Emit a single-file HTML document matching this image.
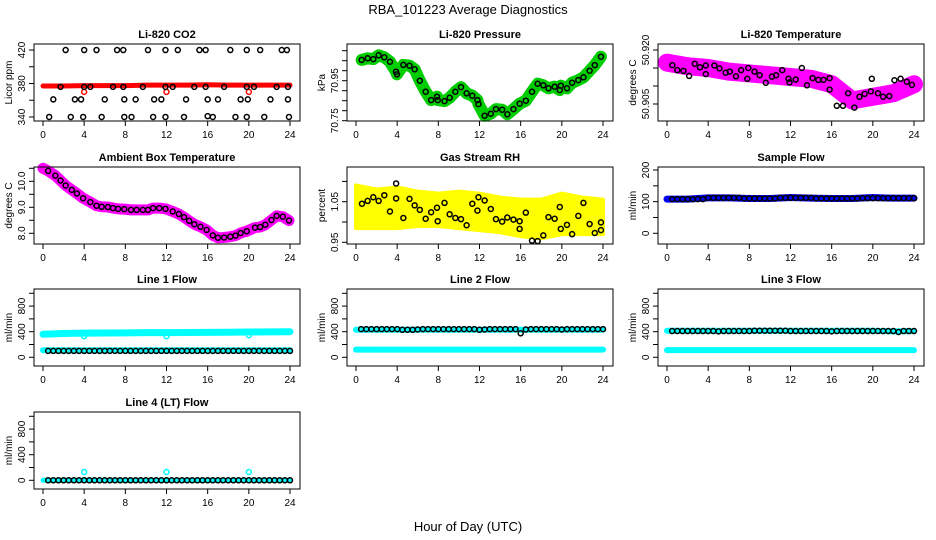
<!DOCTYPE html>
<html><head><meta charset="utf-8">
<style>
html,body{margin:0;padding:0;background:#fff;}
svg{display:block;font-family:"Liberation Sans",sans-serif;}
</style></head>
<body>
<svg id="c" width="936" height="540" viewBox="0 0 936 540">
<text x="468" y="14" text-anchor="middle" font-size="13">RBA_101223  Average Diagnostics</text>
<text x="468" y="531" text-anchor="middle" font-size="13">Hour of Day (UTC)</text>
</svg>
<script>
// ---------- data ----------
const halfHours = [0.5,1,1.5,2,2.5,3,3.5,4,4.5,5,5.5,6,6.5,7,7.5,8,8.5,9,9.5,10,10.5,11,11.5,12,12.5,13,13.5,14,14.5,15,15.5,16,16.5,17,17.5,18,18.5,19,19.5,20,20.5,21,21.5,22,22.5,23,23.5,24];
const bandHours = [0,2,4,6,8,10,12,14,16,18,20,22,24];

const co2BlackH = [2.2,4.0,5.2,7.2,7.8,10.2,11.9,13.1,15.2,15.8,18.2,19.8,21.1,23.2,23.7,
 1.7,4.0,4.6,6.8,7.8,9.7,11.9,12.6,14.7,15.8,17.6,19.8,20.5,22.7,23.8,
 1.0,3.1,3.7,6.0,7.9,9.0,10.8,11.5,13.9,16.0,17.0,19.2,19.9,22.1,23.8,
 0.6,2.7,3.9,5.7,7.9,8.6,10.7,11.9,13.7,16.0,16.5,18.7,19.8,21.5,23.9];
const co2BlackV = [420,420,420,420,420,420,420,420,420,420,420,420,420,420,420,
 376,376,376,376,376,376,376,376,376,376,376,376,376,376,376,
 361,361,361,361,361,361,361,361,361,361,361,361,361,361,361,
 340,340,340,340,340,340,340,340,340,341,340,340,340,340,340];
const co2Red = [377,377,377.5,377.5,377.5,378,378,378,378.5,378,378,378,378];
const co2RedOutH = [4,12,20];
const co2RedOutV = [370,370,370];

const presH = [0.55,1.13,1.68,2.2,2.75,3.3,3.89,3.98,4.6,5.2,5.7,6.2,6.77,7.3,7.87,7.94,8.6,9.1,9.65,10.2,10.75,11.3,11.8,11.9,12.5,13.1,13.6,14.2,14.7,15.3,15.9,16.5,17.1,17.65,18.2,18.7,19.3,19.8,19.9,20.5,21.0,21.6,22.1,22.7,23.2,23.8];
const presV = [71.054,71.062,71.058,71.077,71.067,71.045,70.995,70.982,71.029,71.025,71.007,70.950,70.895,70.853,70.870,70.853,70.848,70.865,70.895,70.918,70.887,70.875,70.853,70.833,70.775,70.785,70.808,70.805,70.782,70.808,70.835,70.85,70.895,70.935,70.927,70.912,70.92,70.903,70.925,70.912,70.94,70.953,70.967,71.0,71.028,71.07];

const tempH = [0.52,1.0,1.6,2.15,2.7,3.2,3.77,3.77,4.6,5.1,5.7,6.1,6.7,7.2,7.8,7.9,8.5,9.0,9.6,10.2,10.6,11.2,11.8,11.9,12.5,13.1,13.6,14.15,14.7,15.2,15.8,15.8,16.5,17.1,17.6,18.2,18.7,19.2,19.8,19.9,20.5,21.0,21.6,22.1,22.7,23.3,23.8];
const tempV = [50.9158,50.9144,50.9142,50.9128,50.9162,50.9152,50.9157,50.9133,50.9157,50.9149,50.9137,50.914,50.9127,50.9144,50.912,50.915,50.914,50.913,50.9109,50.9126,50.913,50.9144,50.912,50.911,50.9118,50.915,50.9102,50.9122,50.9117,50.9117,50.9122,50.909,50.9045,50.9045,50.908,50.904,50.907,50.9078,50.9085,50.912,50.908,50.907,50.9072,50.9116,50.912,50.9112,50.9103];
const tempBand = [50.9165,50.9155,50.915,50.914,50.9135,50.913,50.9125,50.912,50.9105,50.906,50.907,50.908,50.9105];

const ambH = [0.5,1.2,1.7,2.2,2.8,3.3,3.9,4.6,5.2,5.7,6.3,6.8,7.3,7.9,8.55,9.1,9.7,10.2,10.7,11.3,11.9,12.6,13.2,13.7,14.2,14.7,15.3,15.9,16.5,17.0,17.6,18.2,18.7,19.2,19.8,20.6,21.1,21.6,22.2,22.7,23.3,23.9];
const ambV = [10.40,10.22,10.03,9.84,9.67,9.53,9.35,9.20,9.06,9.02,9.01,8.97,8.94,8.93,8.9,8.9,8.9,8.9,8.97,8.97,8.94,8.84,8.74,8.62,8.48,8.35,8.25,8.13,7.92,7.83,7.84,7.87,7.91,8.01,8.08,8.22,8.24,8.33,8.51,8.67,8.64,8.49];

const rhH = [0.58,1.13,1.68,2.2,2.75,3.3,3.9,3.9,4.6,5.2,5.7,6.2,6.77,7.3,7.87,7.94,8.6,9.1,9.65,10.2,10.75,11.3,11.8,11.9,12.5,13.1,13.6,14.2,14.7,15.3,15.9,15.9,16.5,17.1,17.65,18.2,18.7,19.3,19.8,19.9,20.5,21.0,21.6,22.1,22.7,23.2,23.8,23.8];
const rhV = [1.045,1.052,1.061,1.052,1.066,1.026,1.095,1.058,1.010,1.057,1.041,1.030,1.008,1.024,1.035,1.002,1.047,1.019,1.010,1.007,0.992,1.045,1.028,1.061,1.053,1.032,1.007,1.001,1.011,1.006,1.002,0.983,1.023,0.954,0.953,0.967,1.012,1.008,1.037,0.983,0.993,0.970,1.015,1.047,0.995,0.973,0.98,0.999];
const rhHi = [1.09,1.08,1.085,1.075,1.07,1.075,1.07,1.06,1.055,1.055,1.07,1.06,1.055];
const rhLo = [0.985,0.985,0.985,0.99,0.99,0.985,0.98,0.975,0.965,0.96,0.97,0.97,0.97];

const sampleBand = [108,108,112,112,110,110,113,111,110,110,113,111,111];
const sampleBlack = [108,108,108,108,108,108,108,112,112,112,112,112,112,112,110,110,110,110,110,110,110,112,112,112,112,112,112,112,110,110,110,110,110,110,110,110,110,111,111,111,111,111,111,111,111,111,111,111];

const l1Upper = [360,372,378,380,382,385,385,388,390,392,395,398,400];
const l1Lower = [110,110,110,110,110,110,110,110,110,110,110,110,110];
const l1Black = [100,100,100,100,100,100,100,100,100,100,100,100,100,100,100,100,100,100,100,100,100,100,100,100,100,100,100,100,100,100,100,100,100,100,100,100,100,100,100,100,100,100,100,100,100,100,100,100];
const l1DipH = [4,12,20];
const l1DipV = [330,330,345];

const l2Upper = [430,430,430,430,430,430,430,430,430,430,430,430,430];
const l2Lower = [120,120,120,120,120,120,120,120,120,120,120,120,120];
const l2Black = [440,440,440,440,440,440,440,440,430,430,430,435,440,440,440,440,440,440,440,440,440,440,440,430,435,440,440,440,440,440,440,375,435,440,440,440,440,440,440,435,440,440,440,440,440,440,440,440];

const l3Upper = [415,415,415,415,415,415,415,415,415,415,415,405,410];
const l3Lower = [112,112,112,112,112,112,112,112,112,112,112,112,112];
const l3Black = [410,410,410,410,410,410,410,410,410,405,410,410,410,410,410,410,415,415,415,415,415,415,415,410,410,410,410,410,410,410,410,405,410,410,410,410,410,410,410,410,410,410,410,410,395,410,410,410];

const l4Band = [0,0,0,0,0,0,0,0,0,0,0,0,0];
const l4Black = [0,0,0,0,0,0,0,0,0,0,0,0,0,0,0,0,0,0,0,0,0,0,0,0,0,0,0,0,0,0,0,0,0,0,0,0,0,0,0,0,0,0,0,0,0,0,0,0];
const l4OutH = [4,12,20];
const l4OutV = [130,130,130];

// ---------- drawing ----------
const NS = "http://www.w3.org/2000/svg";
const svg = document.getElementById('c');
const colLeft = [34,347,658], rowTop = [44,167,289,412], W = 266, H = 77;
function mk(tag, parent){ const e = document.createElementNS(NS, tag); parent.appendChild(e); return e; }

function panel(col,row,name,title,ylab,yTop,yBot,ticks,labels){
  const L = colLeft[col], T = rowTop[row];
  const g = mk('g', svg);
  
  
  const sx = h => L + 9 + h*(247/24);
  const sy = v => T + (yTop - v)/(yTop - yBot)*H;
  const t = mk('text', g);
  
  
  t.setAttribute('x', L + W/2); t.setAttribute('y', T - 6);
  t.setAttribute('text-anchor','middle'); t.setAttribute('font-size','11'); t.setAttribute('font-weight','bold');
  t.textContent = title;
  const yl = mk('text', g);
  
  
  yl.setAttribute('transform', `translate(${L-22},${T+H/2}) rotate(-90)`);
  yl.setAttribute('text-anchor','middle'); yl.setAttribute('font-size','10');
  yl.textContent = ylab;
  const plot = mk('g', g);
  
  
  const xa = mk('g', g);
  
  
  const xl = mk('line', xa);
  xl.setAttribute('x1', sx(0)); xl.setAttribute('x2', sx(24)); xl.setAttribute('y1', T+H); xl.setAttribute('y2', T+H); xl.setAttribute('stroke','#000');
  for (let h=0; h<=24; h+=4){
    const tk = mk('line', xa);
    tk.setAttribute('x1', sx(h)); tk.setAttribute('x2', sx(h)); tk.setAttribute('y1', T+H); tk.setAttribute('y2', T+H+5); tk.setAttribute('stroke','#000');
    const tl = mk('text', xa);
    
    
    tl.setAttribute('x', sx(h)); tl.setAttribute('y', T+H+17); tl.setAttribute('text-anchor','middle'); tl.setAttribute('font-size','10');
    tl.textContent = h;
  }
  const ya = mk('g', g);
  
  
  const yln = mk('line', ya);
  yln.setAttribute('x1', L); yln.setAttribute('x2', L); yln.setAttribute('y1', sy(ticks[0])); yln.setAttribute('y2', sy(ticks[ticks.length-1])); yln.setAttribute('stroke','#000');
  ticks.forEach((v,i)=>{
    const tk = mk('line', ya);
    tk.setAttribute('x1', L-5); tk.setAttribute('x2', L); tk.setAttribute('y1', sy(v)); tk.setAttribute('y2', sy(v)); tk.setAttribute('stroke','#000');
    if (labels[i]){
      const tl = mk('text', ya);
      
      
      tl.setAttribute('transform', `translate(${L-9},${sy(v)}) rotate(-90)`);
      tl.setAttribute('text-anchor','middle'); tl.setAttribute('font-size','10');
      tl.textContent = labels[i];
    }
  });
  const box = mk('rect', g);
  
  
  box.setAttribute('x', L); box.setAttribute('y', T); box.setAttribute('width', W); box.setAttribute('height', H);
  box.setAttribute('fill','none'); box.setAttribute('stroke','#000');
  return {plot, sx, sy, name};
}
function band(p, hs, vs, color, width){
  const pl = mk('polyline', p.plot);
  
  
  pl.setAttribute('points', hs.map((h,i)=>p.sx(h)+','+p.sy(vs[i])).join(' '));
  pl.setAttribute('fill','none'); pl.setAttribute('stroke',color); pl.setAttribute('stroke-width',width);
  pl.setAttribute('stroke-linejoin','round'); pl.setAttribute('stroke-linecap','round');
}
function area(p, hs, hi, lo, color){
  const pts = hs.map((h,i)=>p.sx(h)+','+p.sy(hi[i])).concat(hs.slice().reverse().map((h,j)=>p.sx(h)+','+p.sy(lo[hs.length-1-j])));
  const pg = mk('polygon', p.plot);
  
  
  pg.setAttribute('points', pts.join(' '));
  pg.setAttribute('fill', color); pg.setAttribute('stroke', color); pg.setAttribute('stroke-width', 4); pg.setAttribute('stroke-linejoin','round');
}
function pts(p, hs, vs, color){
  hs.forEach((h,i)=>{
    const c = mk('circle', p.plot);
    
    
    c.setAttribute('cx', p.sx(h)); c.setAttribute('cy', p.sy(vs[i])); c.setAttribute('r', 2.5);
    c.setAttribute('fill','none'); c.setAttribute('stroke',color); c.setAttribute('stroke-width',1.5);
  });
}

let p;
p = panel(0,0,'co2','Li-820 CO2','Licor ppm',427.2,335.2,[340,360,380,400,420],['340','','380','','420']);
band(p, bandHours, co2Red, '#f00', 5); pts(p, co2RedOutH, co2RedOutV, '#f00'); pts(p, co2BlackH, co2BlackV, '#000');

p = panel(1,0,'pressure','Li-820 Pressure','kPa',71.1335,70.7485,[70.75,70.8,70.85,70.9,70.95,71.0,71.05,71.1],['70.75','','','','70.95','','','']);
band(p, presH, presV, '#00cd00', 12); pts(p, presH, presV, '#000');

p = panel(2,0,'temperature','Li-820 Temperature','degrees C',50.92167,50.90028,[50.905,50.91,50.915,50.92],['50.905','','','50.920']);
band(p, bandHours, tempBand, '#f0f', 18); pts(p, tempH, tempV, '#000');

p = panel(0,1,'ambient','Ambient Box Temperature','degrees C',10.55,7.588,[8.0,8.5,9.0,9.5,10.0,10.5],['8.0','','9.0','','10.0','']);
band(p, [0].concat(ambH), [10.5].concat(ambV), '#f0f', 11); pts(p, ambH, ambV, '#000');

p = panel(1,1,'rh','Gas Stream RH','percent',1.1355,0.9458,[0.95,1.0,1.05,1.1],['0.95','','1.05','']);
area(p, bandHours, rhHi, rhLo, '#ffff00'); pts(p, rhH, rhV, '#000');

p = panel(2,1,'sample-flow','Sample Flow','ml/min',209.5,-33.8,[0,50,100,150,200],['0','','100','','200']);
band(p, bandHours, sampleBand, '#00f', 7); pts(p, halfHours, sampleBlack, '#000');

p = panel(0,2,'line1-flow','Line 1 Flow','ml/min',1067,-136,[0,200,400,600,800,1000],['0','','400','','800','']);
band(p, bandHours, l1Upper, '#0ff', 7); band(p, bandHours, l1Lower, '#0ff', 6); pts(p, l1DipH, l1DipV, '#0ff'); pts(p, halfHours, l1Black, '#000');

p = panel(1,2,'line2-flow','Line 2 Flow','ml/min',1067,-136,[0,200,400,600,800,1000],['0','','400','','800','']);
band(p, bandHours, l2Upper, '#0ff', 6); band(p, bandHours, l2Lower, '#0ff', 6); pts(p, halfHours, l2Black, '#000');

p = panel(2,2,'line3-flow','Line 3 Flow','ml/min',1067,-136,[0,200,400,600,800,1000],['0','','400','','800','']);
band(p, bandHours, l3Upper, '#0ff', 6); band(p, bandHours, l3Lower, '#0ff', 6); pts(p, halfHours, l3Black, '#000');

p = panel(0,3,'line4-flow','Line 4 (LT) Flow','ml/min',1067,-136,[0,200,400,600,800,1000],['0','','400','','800','']);
band(p, bandHours, l4Band, '#0ff', 5); pts(p, l4OutH, l4OutV, '#0ff'); pts(p, halfHours, l4Black, '#000');
</script>
</body></html>
